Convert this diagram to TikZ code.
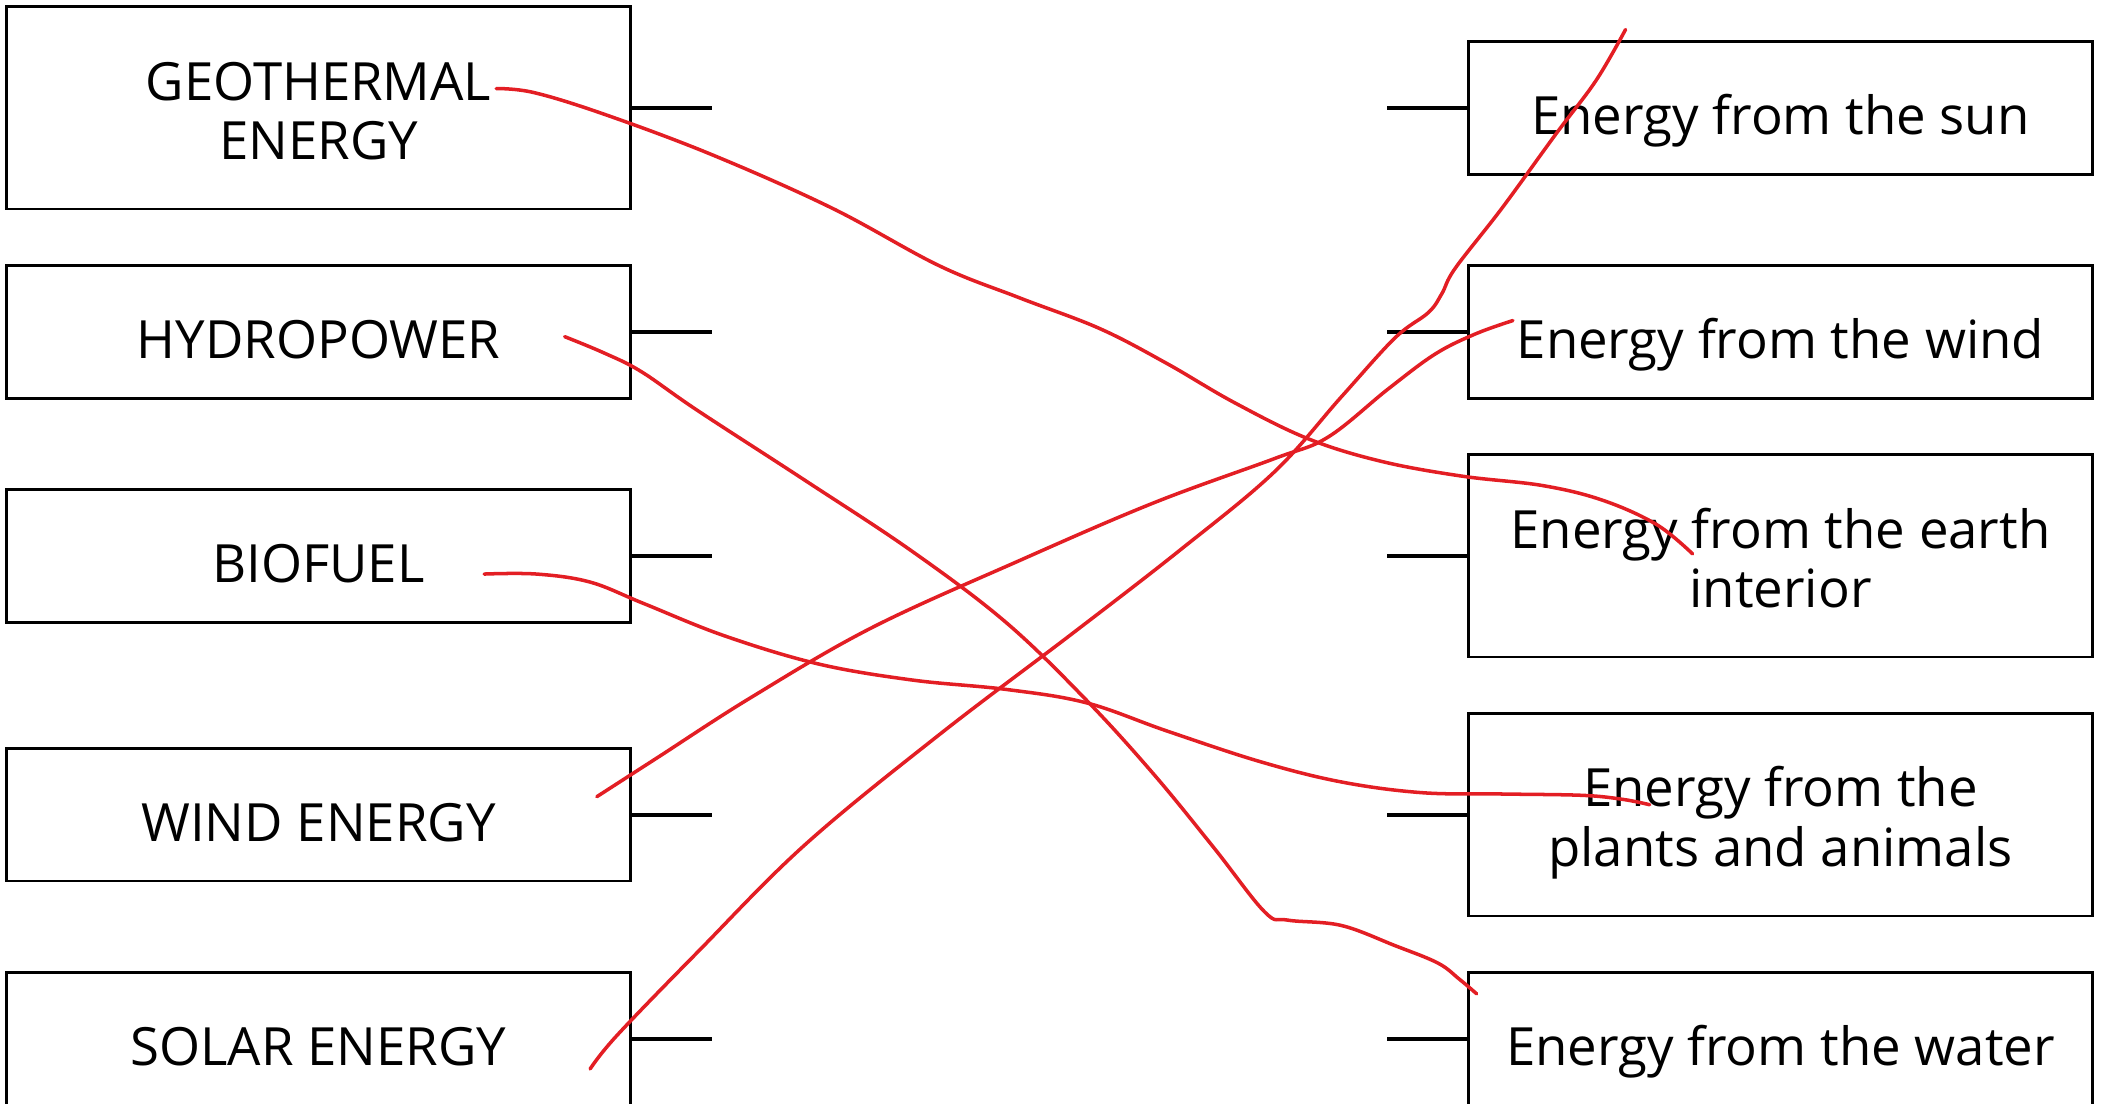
\documentclass[tikz,border=0pt]{standalone}
\usepackage{fontspec}
\setmainfont{Open Sans}
\usetikzlibrary{positioning}
\definecolor{pencil}{RGB}{227,30,36}

\begin{document}
\begin{tikzpicture}[x=0.013412cm, y=-0.013412cm, font=\fontsize{15pt}{17pt}\selectfont,
    box/.style={line width=0.7pt, draw, shape=rectangle, align=center, inner sep=0pt, minimum width=6.237cm},
    short/.style={minimum height=1.328cm, text height=15pt, text depth=0pt},
    tall/.style={minimum height=2.025cm, text height=29.5pt, text depth=0pt},
    stub/.style={line width=1pt},
    pen/.style={line width=1pt, draw=pencil, line cap=round, line join=round}]
    \useasboundingbox (0,0) rectangle (1568,823);

    \node (geothermal) [box, tall] at (237.5,80.5) {GEOTHERMAL\\ENERGY};
    \node (hydro) [box, short] at (237.5,247.5) {HYDROPOWER};
    \node (biofuel) [box, short] at (237.5,414.5) {BIOFUEL};
    \node (windpower) [box, short] at (237.5,607.5) {WIND ENERGY};
    \node (solar) [box, short] at (237.5,774.5) {SOLAR ENERGY};

    \node (sun) [box, short] at (1327.5,80.5) {Energy from the sun};
    \node (wind) [box, short] at (1327.5,247.5) {Energy from the wind};
    \node (earth) [box, tall] at (1327.5,414.5) {Energy from the earth\\interior};
    \node (plants) [box, tall] at (1327.5,607.5) {Energy from the\\plants and animals};
    \node (water) [box, short] at (1327.5,774.5) {Energy from the water};

    \foreach \n in {geothermal, hydro, biofuel, windpower, solar}
        \draw [stub] (\n.east) -- ++(60,0);
    \foreach \n in {sun, wind, earth, plants, water}
        \draw [stub] (\n.west) -- ++(-60,0);

    % pen strokes
    \coordinate (geoA) at (370,66);
    \coordinate (earthA) at (1262,413);
    \coordinate (hydroA) at (421,251);
    \coordinate (waterA) at (1101,741);
    \coordinate (bioA) at (361,428);
    \coordinate (plantsA) at (1230,600);
    \coordinate (windA) at (445,594);
    \coordinate (airA) at (1128,239);
    \coordinate (solarA) at (440,797);
    \coordinate (sunA) at (1212,22);

    \draw [pen] plot [smooth, tension=0.6] coordinates {(geoA) (398,69) (450,85) (530,115) (620,155) (700,198) (760,222) (820,245) (870,271) (920,300) (975,327) (1030,344) (1090,355) (1150,362) (1195,373) (1235,391) (earthA)};
    \draw [pen] plot [smooth, tension=0.6] coordinates {(hydroA) (450,263) (478,277) (520,306) (600,358) (680,411) (750,464) (810,522) (860,577) (905,632) (943,680) (960,686) (1000,690) (1040,705) (1072,718) (1088,730) (waterA)};
    \draw [pen] plot [smooth, tension=0.6] coordinates {(bioA) (400,428) (440,434) (480,450) (540,474) (610,495) (680,507) (750,514) (810,524) (870,545) (940,568) (1000,583) (1060,591) (1120,592) (1180,593) (1210,596) (plantsA)};
    \draw [pen] plot [smooth, tension=0.6] coordinates {(windA) (490,565) (560,520) (650,468) (760,418) (860,375) (950,342) (990,326) (1035,290) (1070,264) (1100,249) (airA)};
    \draw [pen] plot [smooth, tension=0.6] coordinates {(solarA) (460,772) (520,710) (600,630) (700,548) (800,472) (880,410) (950,352) (1000,296) (1040,252) (1065,233) (1075,219) (1085,200) (1120,155) (1160,100) (1190,60) (sunA)};
\end{tikzpicture}
\end{document}
